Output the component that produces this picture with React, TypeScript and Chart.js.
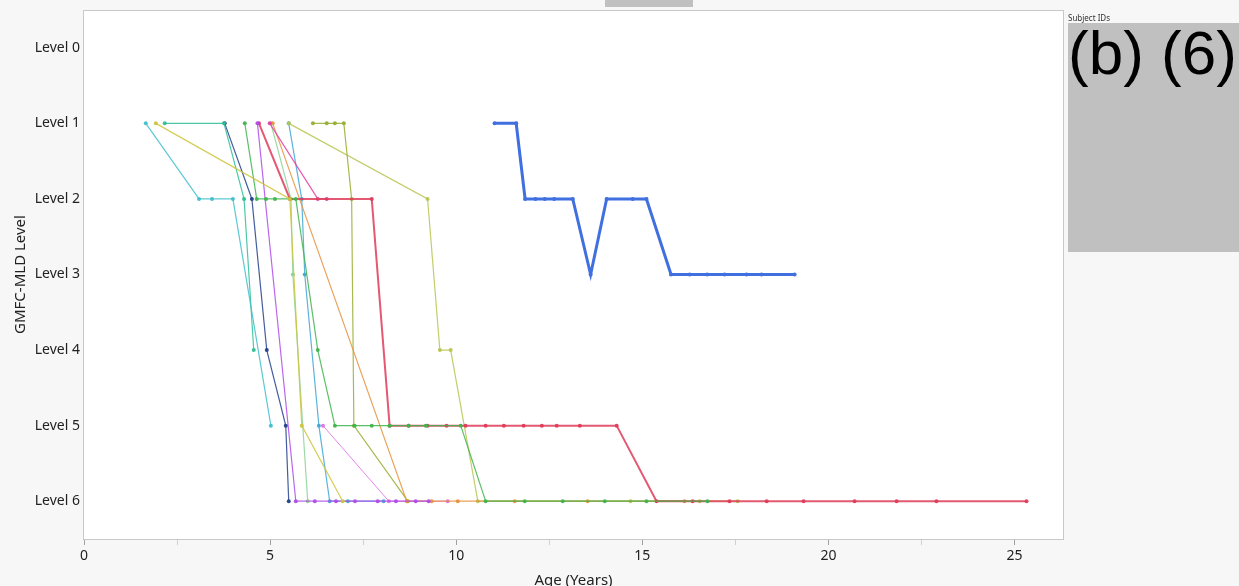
import React, { useEffect, useRef } from "react";
import { Chart, registerables } from "chart.js";

Chart.register(...registerables);

// ---------- data ----------
const levelTicks = [0, 1, 2, 3, 4, 5, 6];
const levelLabels = ["Level 0", "Level 1", "Level 2", "Level 3", "Level 4", "Level 5", "Level 6"];
const ageTicks = [0, 2.5, 5, 7.5, 10, 12.5, 15, 17.5, 20, 22.5, 25];
const ageTickLabels = ["0", "", "5", "", "10", "", "15", "", "20", "", "25"];

const cyanAge = [1.66, 3.09, 3.44, 4.0, 5.02];
const cyanLevel = [1, 2, 2, 2, 5];

const yellowAge = [1.93, 5.53, 5.85, 6.95];
const yellowLevel = [1, 2, 5, 6];

const tealAge = [2.17, 3.76, 4.3, 4.56];
const tealLevel = [1, 1, 2, 4];

const navyAge = [3.78, 4.51, 4.91, 5.42, 5.5];
const navyLevel = [1, 2, 4, 5, 6];

const greenAge = [4.32, 4.64, 4.89, 5.13, 5.69, 6.28, 6.74, 7.27, 7.73, 8.21, 8.72, 9.18, 10.12, 10.79, 11.84, 12.86, 13.99, 15.11, 16.75];
const greenLevel = [1, 2, 2, 2, 2, 4, 5, 5, 5, 5, 5, 5, 5, 6, 6, 6, 6, 6, 6];

const purpleAge = [4.66, 5.69, 6.2, 6.77, 7.28, 7.89, 8.38, 8.91, 9.26];
const purpleLevel = [1, 6, 6, 6, 6, 6, 6, 6, 6];

const redAge = [4.7, 5.53, 7.73, 8.21, 8.72, 9.23, 9.74, 10.25, 10.79, 11.28, 11.81, 12.3, 12.7, 13.32, 14.31, 15.38, 16.35, 17.34, 18.34, 19.33, 20.7, 21.83, 22.9, 25.32];
const redLevel = [1, 2, 2, 5, 5, 5, 5, 5, 5, 5, 5, 5, 5, 5, 5, 6, 6, 6, 6, 6, 6, 6, 6, 6];

const magentaAge = [4.99, 6.28, 6.52];
const magentaLevel = [1, 2, 2];

const orangeAge = [5.07, 8.67, 9.34, 10.04, 11.57, 13.53, 16.13];
const orangeLevel = [1, 6, 6, 6, 6, 6, 6];

const oliveAge = [6.15, 6.52, 6.74, 6.98, 7.19, 7.25, 8.7];
const oliveLevel = [1, 1, 1, 1, 2, 5, 6];

const khakiAge = [5.5, 9.23, 9.56, 9.85, 10.58, 14.68, 16.54, 17.56];
const khakiLevel = [1, 2, 4, 4, 6, 6, 6, 6];

const mintAge = [5.02, 5.56, 5.61, 6.01];
const mintLevel = [1, 2, 3, 6];

const skyAge = [5.5, 5.85, 5.93, 6.31, 6.6, 7.09, 8.05];
const skyLevel = [1, 2, 3, 5, 6, 6, 6];

const pinkAge = [6.42, 8.19, 9.77];
const pinkLevel = [5, 6, 6];

const focusAge = [11.03, 11.61, 11.85, 12.13, 12.38, 12.63, 13.13, 13.61, 14.04, 14.74, 15.11, 15.77, 16.27, 16.74, 17.21, 17.8, 18.2, 19.09];
const focusLevel = [1, 1, 2, 2, 2, 2, 2, 3, 2, 2, 2, 3, 3, 3, 3, 3, 3, 3];

// ---------- styling ----------
const seriesList = [
  { ages: cyanAge, levels: cyanLevel, color: "64,190,204", width: 1.2 },
  { ages: yellowAge, levels: yellowLevel, color: "205,196,58", width: 1.2 },
  { ages: tealAge, levels: tealLevel, color: "46,190,150", width: 1.2 },
  { ages: navyAge, levels: navyLevel, color: "36,64,140", width: 1.2 },
  { ages: greenAge, levels: greenLevel, color: "64,180,76", width: 1.2 },
  { ages: purpleAge, levels: purpleLevel, color: "176,76,232", width: 1.2 },
  { ages: redAge, levels: redLevel, color: "222,60,88", width: 2 },
  { ages: magentaAge, levels: magentaLevel, color: "224,64,160", width: 1.2 },
  { ages: orangeAge, levels: orangeLevel, color: "230,146,62", width: 1.2 },
  { ages: oliveAge, levels: oliveLevel, color: "150,174,48", width: 1.2 },
  { ages: khakiAge, levels: khakiLevel, color: "184,196,80", width: 1.2 },
  { ages: mintAge, levels: mintLevel, color: "140,210,150", width: 1.2 },
  { ages: skyAge, levels: skyLevel, color: "64,166,214", width: 1.2 },
  { ages: pinkAge, levels: pinkLevel, color: "226,110,232", width: 1 },
];

const plotFrame = {
  id: "plotFrame",
  beforeDraw(chart: any) {
    const { ctx, chartArea } = chart;
    const { left, top, right, bottom } = chartArea;
    ctx.save();
    ctx.fillStyle = "#ffffff";
    ctx.fillRect(left, top, right - left, bottom - top);
    ctx.restore();
  },
  afterDraw(chart: any) {
    const { ctx, chartArea } = chart;
    const { left, top, right, bottom } = chartArea;
    ctx.save();
    ctx.strokeStyle = "#c8c8c8";
    ctx.lineWidth = 1;
    ctx.strokeRect(Math.round(left) - 0.5, Math.round(top) + 0.5, Math.round(right - left) + 1, Math.round(bottom - top));
    ctx.restore();
  },
};

export default function App() {
  const canvasRef = useRef<HTMLCanvasElement | null>(null);

  useEffect(() => {
    document.body.style.margin = "0";
    document.body.style.background = "#f7f7f7";
    const canvas = canvasRef.current;
    if (!canvas) return;

    const datasets: any[] = seriesList.map((s) => ({
      data: s.ages.map((a, i) => ({ x: a, y: s.levels[i] })),
      borderColor: `rgba(${s.color},0.85)`,
      backgroundColor: `rgba(${s.color},0.95)`,
      pointBackgroundColor: `rgba(${s.color},0.95)`,
      pointBorderWidth: 0,
      borderWidth: s.width,
      pointRadius: 2,
      showLine: true,
      tension: 0,
      order: 2,
    }));
    datasets.push({
      data: focusAge.map((a, i) => ({ x: a, y: focusLevel[i] })),
      borderColor: "rgba(64,112,224,1)",
      backgroundColor: "rgba(64,112,224,1)",
      pointBackgroundColor: "rgba(64,112,224,1)",
      pointBorderWidth: 0,
      borderWidth: 3,
      pointRadius: 2,
      showLine: true,
      tension: 0,
      order: 0,
    });

    const chart = new Chart(canvas, {
      type: "scatter",
      data: { datasets },
      plugins: [plotFrame],
      options: {
        animation: false,
        responsive: false,
        maintainAspectRatio: false,
        layout: { padding: { top: 10, right: 176, bottom: 0, left: 0 } },
        plugins: { legend: { display: false }, tooltip: { enabled: false } },
        scales: {
          x: {
            type: "linear",
            min: 0,
            max: 26.3,
            afterFit: (s: any) => {
              s.height = 47;
              s.paddingLeft = 0;
              s.paddingRight = 0;
            },
            afterBuildTicks: (s: any) => {
              s.ticks = ageTicks.map((v) => ({ value: v }));
            },
            ticks: {
              autoSkip: false,
              maxRotation: 0,
              padding: 3,
              color: "#222",
              font: { family: "Noto Sans", size: 14 },
              callback: (_v: any, i: number) => ageTickLabels[i],
            },
            grid: {
              display: true,
              drawOnChartArea: false,
              drawTicks: true,
              tickLength: 6,
              tickColor: (ctx: any) => (ctx.tick && ctx.tick.value % 5 === 0 ? "#a0a0a0" : "#d0d0d0"),
            },
            border: { display: false },
            title: {
              display: true,
              text: "Age (Years)",
              color: "#222",
              font: { family: "Noto Sans", size: 15 },
              padding: { top: 0, bottom: -4 },
            },
          },
          y: {
            type: "linear",
            reverse: true,
            min: -0.5,
            max: 6.5,
            afterFit: (s: any) => {
              s.width = 84;
              s.paddingTop = 0;
              s.paddingBottom = 0;
            },
            afterBuildTicks: (s: any) => {
              s.ticks = levelTicks.map((v) => ({ value: v }));
            },
            ticks: {
              autoSkip: false,
              padding: 4,
              color: "#222",
              font: { family: "Noto Sans", size: 14 },
              callback: (_v: any, i: number) => levelLabels[i],
            },
            grid: { display: false, drawTicks: false },
            border: { display: false },
            title: {
              display: true,
              text: "GMFC-MLD Level",
              color: "#222",
              font: { family: "Noto Sans", size: 15 },
              padding: { top: 12, bottom: 0 },
            },
          },
        },
      },
    });
    return () => chart.destroy();
  }, []);

  return (
    <div style={{ position: "fixed", left: 0, top: 0, width: 1239, height: 586, background: "#f7f7f7", overflow: "hidden" }}>
      <canvas ref={canvasRef} width={1239} height={586} style={{ position: "absolute", left: 0, top: 0, width: 1239, height: 586 }} />
      <div style={{ position: "absolute", left: 605, top: 0, width: 88, height: 7, background: "#c0c0c0" }} />
      <div
        style={{
          position: "absolute",
          left: 1068,
          top: 13,
          fontFamily: "Noto Sans",
          fontSize: 8,
          color: "#333",
          lineHeight: "10px",
          whiteSpace: "nowrap",
        }}
      >
        Subject IDs
      </div>
      <div
        style={{
          position: "absolute",
          left: 1068,
          top: 23,
          width: 171,
          height: 229,
          background: "#c0c0c0",
          overflow: "hidden",
        }}
      >
        <div
          style={{
            position: "absolute",
            left: 0,
            top: -6,
            fontFamily: "Liberation Sans",
            fontSize: 62,
            lineHeight: "72px",
            color: "#000",
            whiteSpace: "nowrap",
          }}
        >
          (b) (6)
        </div>
      </div>
    </div>
  );
}
